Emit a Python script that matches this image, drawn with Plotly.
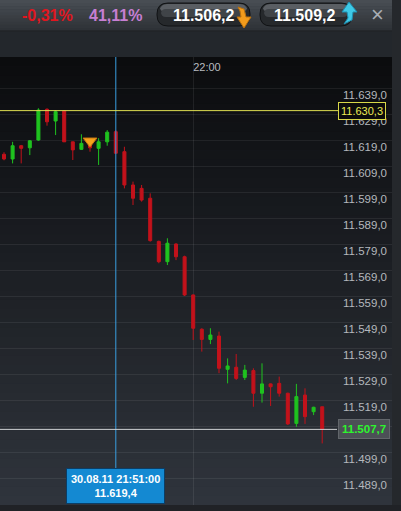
import plotly.graph_objects as go

W, H = 401, 511

# ---------------- data ----------------
minutes = [f"{21 + (38 + i) // 60}:{(38 + i) % 60:02d}" for i in range(38)]
idx = list(range(38))
open_ = [11613.5, 11611.7, 11616.8, 11616.0, 11619.0, 11630.8, 11626.3, 11630.2, 11618.3, 11615.4,
         11617.1, 11615.8, 11618.3, 11622.2, 11614.5, 11601.7, 11600.4, 11596.6, 11580.0, 11572.2,
         11579.0, 11574.1, 11559.4, 11546.2, 11542.3, 11543.6, 11530.8, 11531.6, 11527.7, 11530.3,
         11521.6, 11525.2, 11525.4, 11521.6, 11510.0, 11520.9, 11514.5, 11516.4]
high = [11614.3, 11618.3, 11617.1, 11619.0, 11631.2, 11631.2, 11630.5, 11630.5, 11618.3, 11621.2,
        11617.7, 11619.7, 11622.8, 11622.8, 11616.4, 11603.0, 11601.7, 11598.5, 11580.3, 11581.2,
        11579.3, 11574.5, 11559.6, 11546.6, 11546.6, 11545.3, 11535.0, 11536.7, 11532.5, 11531.2,
        11533.1, 11525.4, 11528.0, 11521.8, 11525.2, 11523.5, 11516.4, 11516.4]
low = [11611.2, 11610.0, 11610.0, 11613.2, 11618.7, 11624.5, 11620.9, 11618.3, 11611.3, 11615.2,
       11614.5, 11609.4, 11616.8, 11613.9, 11600.4, 11594.0, 11595.3, 11579.9, 11571.6, 11570.9,
       11572.8, 11559.0, 11542.1, 11537.6, 11540.5, 11529.3, 11525.4, 11526.7, 11526.7, 11516.4,
       11518.0, 11516.7, 11520.3, 11509.4, 11508.7, 11509.8, 11513.2, 11502.3]
close = [11611.7, 11616.8, 11615.8, 11618.7, 11630.5, 11626.0, 11629.9, 11618.3, 11615.2, 11617.7,
         11616.0, 11618.3, 11622.0, 11613.9, 11601.7, 11596.6, 11595.9, 11580.3, 11572.2, 11579.3,
         11574.1, 11559.4, 11546.6, 11542.3, 11544.0, 11531.2, 11532.1, 11527.3, 11530.5, 11521.6,
         11525.2, 11524.1, 11521.6, 11509.8, 11520.3, 11512.6, 11516.2, 11507.7]

y_ticks = [11489, 11499, 11509, 11519, 11529, 11539, 11549, 11559, 11569, 11579,
           11589, 11599, 11609, 11619, 11629, 11639]
y_ticktext = [f"11.{v - 11000:03d},0" for v in y_ticks]
x_tickvals = [22]
x_ticktext = ["22:00"]

marker_idx = [10]
marker_val = [11618.6]

crosshair_idx = 13
crosshair_label = "30.08.11 21:51:00<br>11.619,4"
alert_level = 11630.3
alert_text = "11.630,3"
last_price = 11507.7
last_text = "11.507,7"
change_pct = "-0,31%"
ratio_pct = "41,11%"
sell_price = "11.506,2"
buy_price = "11.509,2"

# ---------------- geometry helpers ----------------
PLOT_TOP, PLOT_BOT, PLOT_RIGHT = 57, 505, 392


def px(x):
    return x / W


def py(y):
    return 1 - y / H


def rrect(x0, y0, x1, y1, r):
    return (f"M{px(x0 + r)},{py(y0)} L{px(x1 - r)},{py(y0)} Q{px(x1)},{py(y0)} {px(x1)},{py(y0 + r)} "
            f"L{px(x1)},{py(y1 - r)} Q{px(x1)},{py(y1)} {px(x1 - r)},{py(y1)} "
            f"L{px(x0 + r)},{py(y1)} Q{px(x0)},{py(y1)} {px(x0)},{py(y1 - r)} "
            f"L{px(x0)},{py(y0 + r)} Q{px(x0)},{py(y0)} {px(x0 + r)},{py(y0)} Z")


def poly(points):
    return "M" + " L".join(f"{px(x)},{py(y)}" for x, y in points) + " Z"


fig = go.Figure()

fig.add_trace(go.Candlestick(
    x=idx, open=open_, high=high, low=low, close=close,
    text=minutes, hoverinfo="skip",
    increasing=dict(line=dict(color="#1fc21f", width=1), fillcolor="#1fc21f"),
    decreasing=dict(line=dict(color="#c2121b", width=1), fillcolor="#c2121b"),
    whiskerwidth=0, showlegend=False,
))

fig.add_trace(go.Scatter(
    x=marker_idx, y=marker_val, mode="markers",
    marker=dict(symbol="triangle-down", size=12, color="#f6a11c",
                line=dict(color="#c87810", width=1)),
    hoverinfo="skip", showlegend=False,
))

shapes = []

# chart background gradient
c0 = (11, 12, 14)
c1 = (47, 52, 60)
N = 48
for k in range(N):
    t = k / (N - 1)
    c = tuple(round(c0[j] + (c1[j] - c0[j]) * t) for j in range(3))
    y0 = PLOT_TOP + (PLOT_BOT - PLOT_TOP) * k / N
    y1 = PLOT_TOP + (PLOT_BOT - PLOT_TOP) * (k + 1) / N + 0.5
    shapes.append(dict(type="rect", xref="paper", yref="paper", x0=0, x1=px(PLOT_RIGHT),
                       y0=py(y1), y1=py(y0), fillcolor=f"rgb{c}", line=dict(width=0), layer="below"))

# second toolbar row
shapes.append(dict(type="rect", xref="paper", yref="paper", x0=0, x1=px(PLOT_RIGHT),
                   y0=py(PLOT_TOP), y1=py(31), fillcolor="#23272c", line=dict(width=0), layer="below"))
# top bar gradient
tb0 = (72, 77, 83)
tb1 = (46, 50, 55)
M = 10
for k in range(M):
    t = k / (M - 1)
    c = tuple(round(tb0[j] + (tb1[j] - tb0[j]) * t) for j in range(3))
    y0 = 31 * k / M
    y1 = 31 * (k + 1) / M + 0.5
    shapes.append(dict(type="rect", xref="paper", yref="paper", x0=0, x1=px(PLOT_RIGHT),
                       y0=py(y1), y1=py(y0), fillcolor=f"rgb{c}", line=dict(width=0), layer="below"))
shapes.append(dict(type="line", xref="paper", yref="paper", x0=0, x1=px(PLOT_RIGHT),
                   y0=py(31), y1=py(31), line=dict(color="#1a1d20", width=1), layer="below"))
# bottom strip
shapes.append(dict(type="rect", xref="paper", yref="paper", x0=0, x1=1,
                   y0=0, y1=py(PLOT_BOT), fillcolor="#202226", line=dict(width=0), layer="below"))

# pills
for (x0, x1) in [(157, 250), (260, 352)]:
    shapes.append(dict(type="path", xref="paper", yref="paper", path=rrect(x0, 3, x1, 26, 11),
                       fillcolor="#26292c", line=dict(color="#101214", width=1), layer="below"))
    shapes.append(dict(type="path", xref="paper", yref="paper", path=rrect(x0 + 3, 4, x1 - 3, 13, 7),
                       fillcolor="#5a5e63", line=dict(width=0), layer="below"))
    shapes.append(dict(type="path", xref="paper", yref="paper", path=rrect(x0 + 4, 9, x1 - 4, 17, 5),
                       fillcolor="#404448", line=dict(width=0), layer="below"))

# orange down arrow
shapes.append(dict(type="path", xref="paper", yref="paper",
                   path=poly([(238, 7), (244, 9), (246, 17), (251, 17), (244, 28), (237, 17), (241, 17), (240, 11)]),
                   fillcolor="#f29b1c", line=dict(color="#b8700e", width=1), layer="above"))
# cyan up arrow
shapes.append(dict(type="path", xref="paper", yref="paper",
                   path=poly([(349, 2), (357, 12), (353, 12), (352, 20), (344, 24), (348, 18), (347, 12), (342, 12)]),
                   fillcolor="#3ec9e6", line=dict(color="#1f8fb0", width=1), layer="above"))

# crosshair vertical
shapes.append(dict(type="line", xref="x", yref="paper", x0=crosshair_idx, x1=crosshair_idx,
                   y0=py(468), y1=py(PLOT_TOP), line=dict(color="#3a9ee0", width=1), layer="above"))
# alert line
shapes.append(dict(type="line", xref="paper", yref="y", x0=0, x1=px(338), y0=alert_level, y1=alert_level,
                   line=dict(color="#dede50", width=1), layer="above"))
# last price line
shapes.append(dict(type="line", xref="paper", yref="y", x0=0, x1=px(337), y0=last_price, y1=last_price,
                   line=dict(color="#cfd2d4", width=1), layer="above"))


def ann(x, y, text, font, yref="paper", **kw):
    d = dict(xref="paper", yref=yref, x=x, y=y, text=text, showarrow=False,
             xanchor="center", yanchor="middle", font=font)
    d.update(kw)
    return d


annotations = [
    ann(px(47), py(15), f"<b>{change_pct}</b>", dict(family="Liberation Sans", size=16, color="#e0161f")),
    ann(px(115), py(15), f"<b>{ratio_pct}</b>", dict(family="Liberation Sans", size=16, color="#c77fd3")),
    ann(px(204), py(15), f"<b>{sell_price}</b>", dict(family="Liberation Sans", size=16, color="#ffffff")),
    ann(px(305), py(15), f"<b>{buy_price}</b>", dict(family="Liberation Sans", size=16, color="#ffffff")),
    ann(px(377), py(14), "×", dict(family="Liberation Sans", size=22, color="#a9aeb4")),
    ann(px(362), alert_level, alert_text, dict(family="Liberation Sans", size=11, color="#ecec55"),
        yref="y", bgcolor="#0c0c0c", bordercolor="#d8d848", borderwidth=1, borderpad=2),
    ann(px(363.5), last_price, f"<b>{last_text}</b>", dict(family="Liberation Sans", size=11.5, color="#2ef52e"),
        yref="y", bgcolor="#4c5056", bordercolor="#62666b", borderwidth=1, borderpad=3),
    ann(px(115), py(485.5), f"<b>{crosshair_label}</b>", dict(family="Liberation Sans", size=11, color="#ffffff"),
        align="center", bgcolor="#1489d2", bordercolor="#0b3e66", borderwidth=1, borderpad=4),
]

x_left = -4 / 8.6
x_right = (PLOT_RIGHT - 4) / 8.6
y_top = 11499 + (452 - PLOT_TOP) / 2.6
y_bot = 11499 - (PLOT_BOT - 452) / 2.6

fig.update_layout(
    width=W, height=H,
    margin=dict(l=0, r=0, t=0, b=0),
    paper_bgcolor="#25282c",
    plot_bgcolor="rgba(0,0,0,0)",
    showlegend=False,
    boxgap=0.5,
    shapes=shapes,
    annotations=annotations,
    xaxis=dict(domain=[0, px(PLOT_RIGHT)], range=[x_left, x_right], side="top",
               tickvals=x_tickvals, ticktext=x_ticktext, ticks="",
               ticklabelposition="inside right",
               tickfont=dict(family="Liberation Sans", size=11, color="#b8bcc0"),
               showgrid=True, gridcolor="rgba(255,255,255,0.08)", gridwidth=1,
               zeroline=False, showline=False, rangeslider=dict(visible=False), fixedrange=True),
    yaxis=dict(domain=[py(PLOT_BOT), py(PLOT_TOP)], range=[y_bot, y_top], side="right",
               tickvals=y_ticks, ticktext=y_ticktext, ticks="",
               ticklabelposition="inside", ticklabelshift=7, ticklabelstandoff=2,
               tickfont=dict(family="Liberation Sans", size=11.5, color="#b4b8bd"),
               showgrid=True, gridcolor="rgba(255,255,255,0.07)", gridwidth=1,
               zeroline=False, showline=False, fixedrange=True),
)

fig.write_html("out.html", config={"displayModeBar": False},
               post_script="document.body.style.margin='0';document.body.style.background='#25282c';")
